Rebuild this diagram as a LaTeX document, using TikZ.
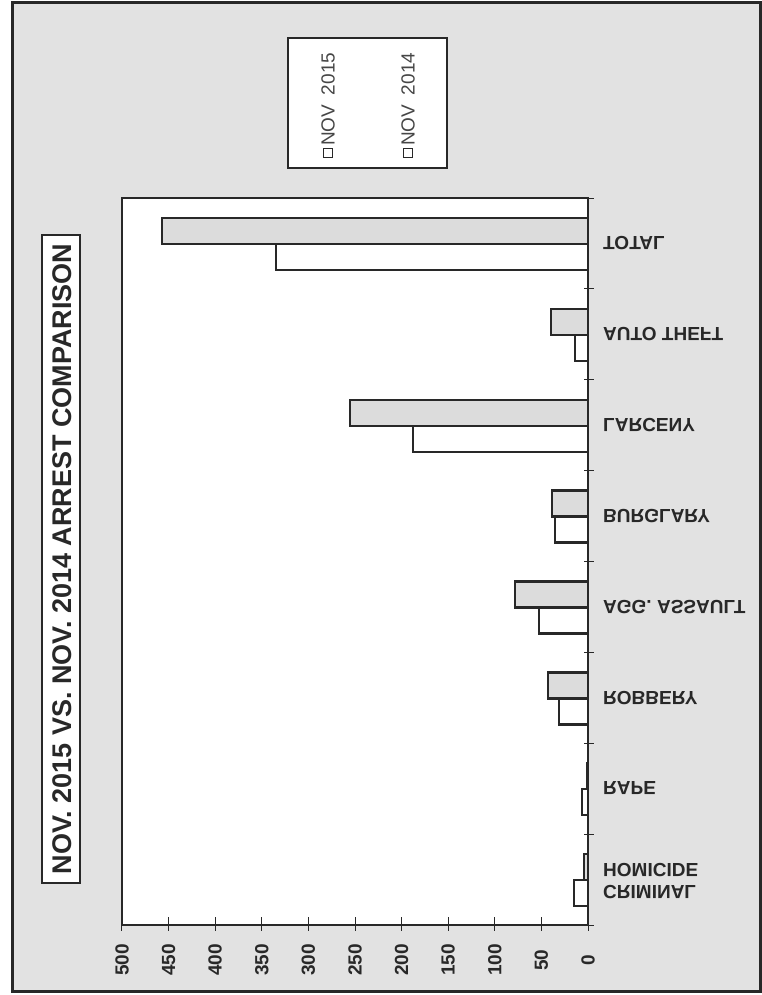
\documentclass[tikz,border=0pt]{standalone}
\usepackage{fontspec}
\setmainfont{Liberation Sans}
\usepackage{graphicx}
\definecolor{bg}{RGB}{226,226,226}
\definecolor{ink}{RGB}{40,40,40}
\definecolor{barfill}{RGB}{220,220,220}
\definecolor{legtext}{RGB}{70,70,70}
\begin{document}
\begin{tikzpicture}[x=1pt,y=-1pt,
  plotframe/.style={draw=ink,line width=2.8pt},
  barbox/.style={draw=ink,line width=2.4pt},
  catlabel/.style={anchor=west,inner sep=0pt,font=\bfseries\fontsize{19}{22}\selectfont,text=ink},
  vallabel/.style={rotate=90,inner sep=0pt,font=\bfseries\fontsize{19}{21}\selectfont,text=ink},
  legtxt/.style={rotate=90,anchor=west,inner sep=0pt,font=\fontsize{19}{21}\selectfont,text=legtext},
  legsq/.style={draw=ink,line width=1.3pt,minimum size=9pt,inner sep=0pt},
  tickmark/.style={draw=ink,line width=1pt}]
\useasboundingbox (0,0) rectangle (762,995);
\fill[white] (0,0) rectangle (762,995);
% outer frame
\draw[ink,line width=3pt,fill=bg] (12,3) rectangle (760,991);
% plot area
\draw[plotframe,fill=white] (122,198) rectangle (588,925);
% bars: index / upper-bar left end / lower-bar left end
\foreach \i/\u/\l in {0/162/276,1/551/575,2/350/413,3/552/555,4/515/539,5/548/559,6/587/582,7/584/574}{
  \pgfmathsetmacro\yy{198+90.875*\i}
  \draw[barbox,fill=barfill] (\u,\yy+20) rectangle (588,\yy+46);
  \draw[barbox,fill=white] (\l,\yy+46) rectangle (588,\yy+72);
}
% redraw axes on top
\draw[ink,line width=2.8pt] (588,198) -- (588,925) -- (122,925);
% category ticks
\foreach \k in {0,...,8}{
  \draw[tickmark] (584,{198+90.875*\k}) -- (594,{198+90.875*\k});
}
% value ticks and labels
\foreach \v in {0,50,...,500}{
  \draw[tickmark] ({588-0.932*\v},917) -- ({588-0.932*\v},931);
  \node[vallabel] (v\v) at ({588-0.932*\v},960) {\v};
}
% category labels (mirrored vertically)
\node[catlabel] (cTotal) at (603,243) {\scalebox{1}[-1]{TOTAL}};
\node[catlabel] (cAuto) at (603,334) {\scalebox{1}[-1]{AUTO THEFT}};
\node[catlabel] (cLarc) at (603,425) {\scalebox{1}[-1]{LARCENY}};
\node[catlabel] (cBurg) at (603,516) {\scalebox{1}[-1]{BURGLARY}};
\node[catlabel] (cAgg) at (603,607) {\scalebox{1}[-1]{AGG. ASSAULT}};
\node[catlabel] (cRob) at (603,698) {\scalebox{1}[-1]{ROBBERY}};
\node[catlabel] (cRape) at (603,788) {\scalebox{1}[-1]{RAPE}};
\node[catlabel] (cHom) at (603,879) {\scalebox{1}[-1]{\begin{tabular}{@{}l@{}}CRIMINAL\\HOMICIDE\end{tabular}}};
% legend
\draw[ink,line width=2.2pt,fill=white] (288,38) rectangle (447,168);
\node[legsq] (sq15) at (328,153) {};
\node[legtxt] (l15) at (328,146) {NOV\hspace{0.5em}2015};
\node[legsq] (sq14) at (408,153) {};
\node[legtxt] (l14) at (408,146) {NOV\hspace{0.5em}2014};
% title
\draw[ink,line width=2.8pt,fill=white] (42,235) rectangle (80,883);
\node[rotate=90,inner sep=0pt,font=\bfseries\fontsize{27}{30}\selectfont,text=ink] (title) at (62,559) {NOV. 2015 VS. NOV. 2014 ARREST COMPARISON};
\end{tikzpicture}
\end{document}
